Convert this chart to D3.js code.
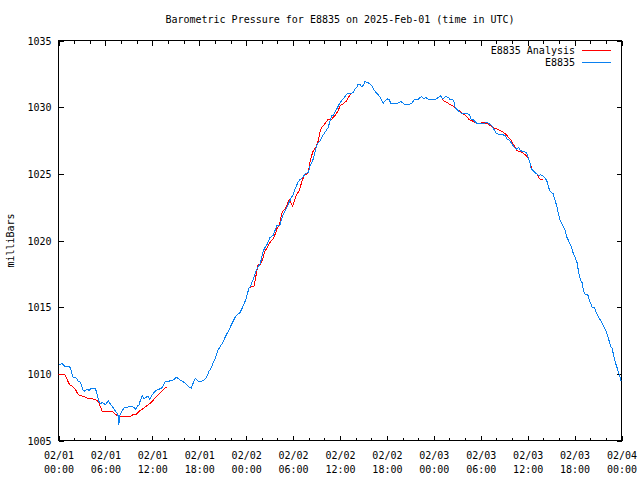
<!DOCTYPE html>
<html>
<head>
<meta charset="utf-8">
<script src="https://cdn.jsdelivr.net/npm/d3@7"></script>
<style>
html, body { margin: 0; padding: 0; background: #fff; }
svg { display: block; }
text { font-family: "DejaVu Sans Mono", "Liberation Mono", monospace; font-size: 10px; fill: #000; }
</style>
</head>
<body>
<svg id="chart" width="640" height="480"></svg>
<script>
// ---- data (hours after 2025-02-01 00:00 UTC, pressure in mb) ----
const titleText = "Barometric Pressure for E8835 on 2025-Feb-01 (time in UTC)";
const yLabelText = "milliBars";
const seriesNames = ["E8835 Analysis", "E8835"];
const startUTC = Date.UTC(2025, 1, 1, 0, 0);
const spanHours = 72;
const yTickValues = [1005, 1010, 1015, 1020, 1025, 1030, 1035];

const stationHours = [0.05,0.47,0.81,1.32,1.54,1.83,2.27,2.52,2.82,3.11,
3.37,3.68,3.93,4.10,4.39,4.74,4.96,5.16,5.38,5.60,
6.02,6.37,6.53,6.88,7.30,7.52,7.65,7.72,7.81,8.07,
8.37,8.80,9.22,9.65,9.86,10.08,10.29,10.50,10.72,10.93,
11.24,11.49,11.66,12.00,12.34,12.64,13.07,13.36,13.62,14.00,
14.44,14.73,15.08,15.50,15.92,16.36,16.78,17.00,17.33,17.51,
17.85,18.28,18.70,18.92,19.25,19.56,19.77,19.98,20.20,20.41,
20.63,21.05,21.27,21.48,21.91,22.12,22.55,22.76,23.19,23.41,
23.70,23.96,24.12,24.38,24.56,24.81,24.89,25.24,25.84,26.10,
26.39,26.69,27.03,27.45,27.67,27.89,28.31,28.53,28.73,29.08,
29.38,29.68,30.02,30.23,30.66,30.87,31.22,31.51,31.94,32.16,
32.37,32.58,33.01,33.22,33.44,33.78,34.08,34.50,34.72,34.94,
35.14,35.58,35.91,36.22,36.64,36.93,37.50,37.70,37.92,38.14,
38.34,38.56,38.78,38.98,39.20,39.42,39.75,40.06,40.26,40.48,
40.70,40.90,41.12,41.34,41.55,41.76,42.06,42.31,42.49,42.83,
43.26,43.59,43.77,44.03,44.32,44.75,45.18,45.48,45.90,46.25,
46.46,46.76,47.02,47.18,47.53,48.17,48.59,48.81,49.16,49.45,
49.87,50.09,50.44,50.60,50.73,51.03,51.37,51.72,52.01,52.31,
52.56,52.74,53.07,53.29,53.51,53.93,54.36,54.70,55.00,55.43,
55.73,55.98,56.41,56.84,57.14,57.35,57.69,58.00,58.29,58.55,
58.84,59.06,59.48,59.83,60.00,60.25,60.43,60.69,61.11,61.40,
61.62,61.97,62.26,62.48,62.68,62.90,63.25,63.54,63.76,63.96,
64.18,64.53,64.82,65.04,65.25,65.55,65.81,66.10,66.32,66.53,
66.74,66.96,67.17,67.38,67.68,67.94,68.24,68.54,68.79,69.09,
69.40,69.73,69.95,70.16,70.37,70.59,70.80,71.01,71.23,71.45,
71.65,71.87,71.96];

const stationPressure = [1010.69,1010.77,1010.56,1010.56,1010.44,1009.76,1009.68,1009.44,1009.36,1008.81,
1008.68,1008.86,1008.74,1008.89,1008.93,1008.86,1008.44,1007.93,1007.76,1007.86,
1007.68,1008.01,1007.80,1007.56,1007.18,1007.05,1006.80,1006.18,1006.80,1007.18,
1007.43,1007.50,1007.56,1007.50,1007.35,1007.56,1007.68,1008.06,1008.36,1008.11,
1008.26,1008.31,1008.11,1008.44,1008.68,1008.81,1008.89,1009.06,1009.38,1009.44,
1009.49,1009.56,1009.74,1009.56,1009.44,1009.19,1008.98,1008.93,1009.49,1009.64,
1009.44,1009.44,1009.56,1009.74,1010.19,1010.49,1010.81,1011.07,1011.44,1011.82,
1011.99,1012.39,1012.69,1012.95,1013.40,1013.70,1014.20,1014.40,1014.57,1014.83,
1015.20,1015.58,1015.95,1016.45,1016.58,1016.95,1017.08,1017.71,1018.33,1019.08,
1019.46,1019.71,1020.21,1020.39,1020.71,1021.09,1021.14,1021.59,1021.97,1022.35,
1022.72,1023.10,1023.47,1023.85,1024.40,1024.55,1024.72,1024.98,1025.10,1025.60,
1025.85,1026.11,1027.11,1027.35,1027.48,1027.86,1028.11,1028.48,1028.98,1029.36,
1029.36,1029.86,1030.24,1030.49,1030.79,1031.04,1031.04,1031.11,1031.37,1031.49,
1031.74,1031.69,1031.54,1031.62,1031.94,1031.86,1031.79,1031.62,1031.37,1031.19,
1031.04,1030.94,1030.74,1030.49,1030.32,1030.49,1030.62,1030.54,1030.29,1030.24,
1030.24,1030.36,1030.44,1030.32,1030.19,1030.19,1030.29,1030.54,1030.54,1030.74,
1030.79,1030.62,1030.74,1030.62,1030.54,1030.54,1030.74,1030.86,1030.62,1030.79,
1030.74,1030.54,1030.54,1030.36,1029.98,1029.79,1029.61,1029.49,1029.53,1029.49,
1029.44,1029.11,1029.04,1028.93,1028.78,1028.74,1028.78,1028.86,1028.78,1028.61,
1028.29,1028.03,1027.93,1027.93,1027.86,1027.61,1027.53,1027.23,1026.98,1026.86,
1026.98,1026.73,1026.68,1026.60,1026.35,1025.93,1025.43,1025.23,1025.02,1024.85,
1024.92,1024.85,1024.68,1024.42,1023.97,1023.67,1023.52,1022.97,1022.47,1021.97,
1021.47,1021.09,1020.71,1020.21,1019.96,1019.59,1019.08,1018.71,1018.33,1017.58,
1017.08,1016.83,1016.15,1015.95,1015.95,1015.45,1015.00,1014.95,1014.57,1014.20,
1013.95,1013.57,1013.32,1012.95,1012.57,1012.07,1011.94,1011.32,1010.81,1010.44,
1010.06,1009.68,1009.44];

// null marks a gap in the analysis series
const analysisHours = [0,0.81,1.11,1.41,1.76,2.18,2.52,2.82,3.24,3.68,
4.32,4.74,5.09,5.60,6.88,7.21,7.65,9.22,9.52,9.86,
10.29,10.93,11.57,12.00,12.43,13.07,13.62,13.87,
19,
24.47,24.98,25.33,25.53,25.84,26.10,26.39,26.69,27.03,27.45,
27.80,27.97,28.22,28.40,28.53,28.73,29.17,29.38,29.59,29.68,
29.94,30.23,30.45,30.78,31.09,31.39,31.73,31.94,32.16,32.37,
32.58,32.92,33.22,33.44,33.65,33.86,34.20,34.50,34.94,35.36,
35.78,36.00,36.42,36.86,37.07,37.37,37.62,37.79,
43,
48.90,49.23,49.67,50.09,50.60,50.95,51.37,51.80,52.23,52.56,
52.87,53.29,53.72,54.36,54.79,55.21,55.64,56.07,56.50,56.92,
57.26,57.56,57.87,58.12,58.42,58.63,59.06,59.48,59.83,60.12,
60.34,60.56,60.85,61.20,61.40,61.62,61.97];

const analysisPressure = [1009.95,1009.94,1009.56,1009.19,1009.06,1008.81,1008.44,1008.36,1008.31,1008.18,
1008.14,1008.06,1007.93,1007.18,1007.18,1007.01,1006.80,1006.80,1006.93,1006.93,
1007.18,1007.43,1007.73,1007.93,1008.26,1008.61,1008.93,1008.98,
null,
1016.50,1016.54,1017.58,1018.21,1018.21,1018.59,1019.21,1019.46,1019.83,1020.14,
1020.59,1020.96,1021.14,1021.59,1021.97,1022.22,1022.52,1022.97,1023.10,1022.84,
1022.59,1023.10,1023.47,1023.72,1024.35,1024.85,1024.98,1025.10,1025.85,1026.35,
1026.73,1026.98,1027.48,1028.11,1028.48,1028.61,1028.86,1029.11,1029.11,1029.36,
1029.74,1030.11,1030.24,1030.49,1030.74,1030.99,1031.11,1031.11,
null,
1030.86,1030.49,1030.36,1030.19,1030.04,1029.86,1029.66,1029.49,1029.29,1029.04,
1028.98,1028.86,1028.78,1028.86,1028.78,1028.61,1028.44,1028.36,1028.23,1028.11,
1027.93,1027.73,1027.53,1027.23,1026.98,1026.73,1026.68,1026.53,1026.35,1026.11,
1025.73,1025.28,1025.10,1024.98,1024.72,1024.60,1024.60];

const seriesColors = ["#ff0000", "#0a80f0"];

// ---- layout ----
const L = 58.5, R = 621.5, T = 40.5, B = 440.5;
const majorTick = 5, minorTick = 3;

const svg = d3.select("#chart");
const toDate = h => new Date(startUTC + h * 3600e3);

const x = d3.scaleUtc().domain([toDate(0), toDate(spanHours)]).range([L, R]);
const y = d3.scaleLinear().domain([1005, 1035]).range([B, T]);

const fontFam = "'DejaVu Sans Mono', 'Liberation Mono', monospace";
function styleAxis(g) {
  g.select(".domain").remove();
  g.selectAll("line").attr("stroke", "#000").attr("shape-rendering", "crispEdges");
  g.attr("font-family", fontFam).attr("font-size", 10);
}

// minor ticks every 2 hours (bottom & top)
svg.append("g").attr("transform", `translate(0,${B})`)
  .call(d3.axisBottom(x).ticks(d3.utcHour.every(2)).tickSize(-minorTick).tickFormat(""))
  .call(styleAxis);
svg.append("g").attr("transform", `translate(0,${T})`)
  .call(d3.axisTop(x).ticks(d3.utcHour.every(2)).tickSize(-minorTick).tickFormat(""))
  .call(styleAxis);

// major ticks every 6 hours, with two-line labels
const fmtDay = d3.utcFormat("%m/%d"), fmtTime = d3.utcFormat("%H:%M");
const xAxisG = svg.append("g").attr("transform", `translate(0,${B})`)
  .call(d3.axisBottom(x).ticks(d3.utcHour.every(6)).tickSize(-majorTick).tickPadding(0))
  .call(styleAxis);
xAxisG.selectAll(".tick text").each(function(d) {
  const t = d3.select(this).text(null).attr("y", 0).attr("dy", null);
  t.append("tspan").attr("x", 0).attr("y", 18).text(fmtDay(d));
  t.append("tspan").attr("x", 0).attr("y", 32).text(fmtTime(d));
});
svg.append("g").attr("transform", `translate(0,${T})`)
  .call(d3.axisTop(x).ticks(d3.utcHour.every(6)).tickSize(-majorTick).tickFormat(""))
  .call(styleAxis);

// y axes
svg.append("g").attr("transform", `translate(${L},0)`)
  .call(d3.axisLeft(y).tickValues(yTickValues).tickSize(-majorTick).tickPadding(7).tickFormat(d3.format("d")))
  .call(styleAxis)
  .selectAll(".tick text").attr("dy", "0.36em");
svg.append("g").attr("transform", `translate(${R},0)`)
  .call(d3.axisRight(y).tickValues(yTickValues).tickSize(-majorTick).tickFormat(""))
  .call(styleAxis);

// border
svg.append("rect").attr("x", L).attr("y", T).attr("width", R - L).attr("height", B - T)
  .attr("fill", "none").attr("stroke", "#000").attr("shape-rendering", "crispEdges");

// clip
svg.append("clipPath").attr("id", "plotclip").append("rect")
  .attr("x", L).attr("y", T - 1).attr("width", R - L).attr("height", B - T + 2);

const analysisData = d3.zip(analysisHours, analysisPressure).map(([h, p]) => ({t: toDate(h), p}));
const stationData = d3.zip(stationHours, stationPressure).map(([h, p]) => ({t: toDate(h), p}));

const line = d3.line().defined(d => d.p != null).x(d => x(d.t)).y(d => y(d.p));

const plot = svg.append("g").attr("clip-path", "url(#plotclip)");
plot.append("path").datum(analysisData).attr("d", line)
  .attr("fill", "none").attr("stroke", seriesColors[0]).attr("stroke-width", 1)
  .attr("shape-rendering", "crispEdges");
plot.append("path").datum(stationData).attr("d", line)
  .attr("fill", "none").attr("stroke", seriesColors[1]).attr("stroke-width", 1)
  .attr("shape-rendering", "crispEdges");

// legend
const legend = svg.append("g");
seriesNames.forEach((name, i) => {
  const ly = 50 + i * 12;
  legend.append("text").attr("x", 575).attr("y", ly).attr("dy", "0.36em")
    .attr("text-anchor", "end").text(name);
  legend.append("line").attr("x1", 582).attr("x2", 611).attr("y1", ly + 0.5).attr("y2", ly + 0.5)
    .attr("stroke", seriesColors[i]).attr("stroke-width", 1).attr("shape-rendering", "crispEdges");
});

// title
svg.append("text").attr("x", (L + R) / 2).attr("y", 23).attr("text-anchor", "middle").text(titleText);

// y label
svg.append("text").attr("transform", `translate(14,${(T + B) / 2}) rotate(-90)`)
  .attr("text-anchor", "middle").text(yLabelText);
</script>
</body>
</html>
